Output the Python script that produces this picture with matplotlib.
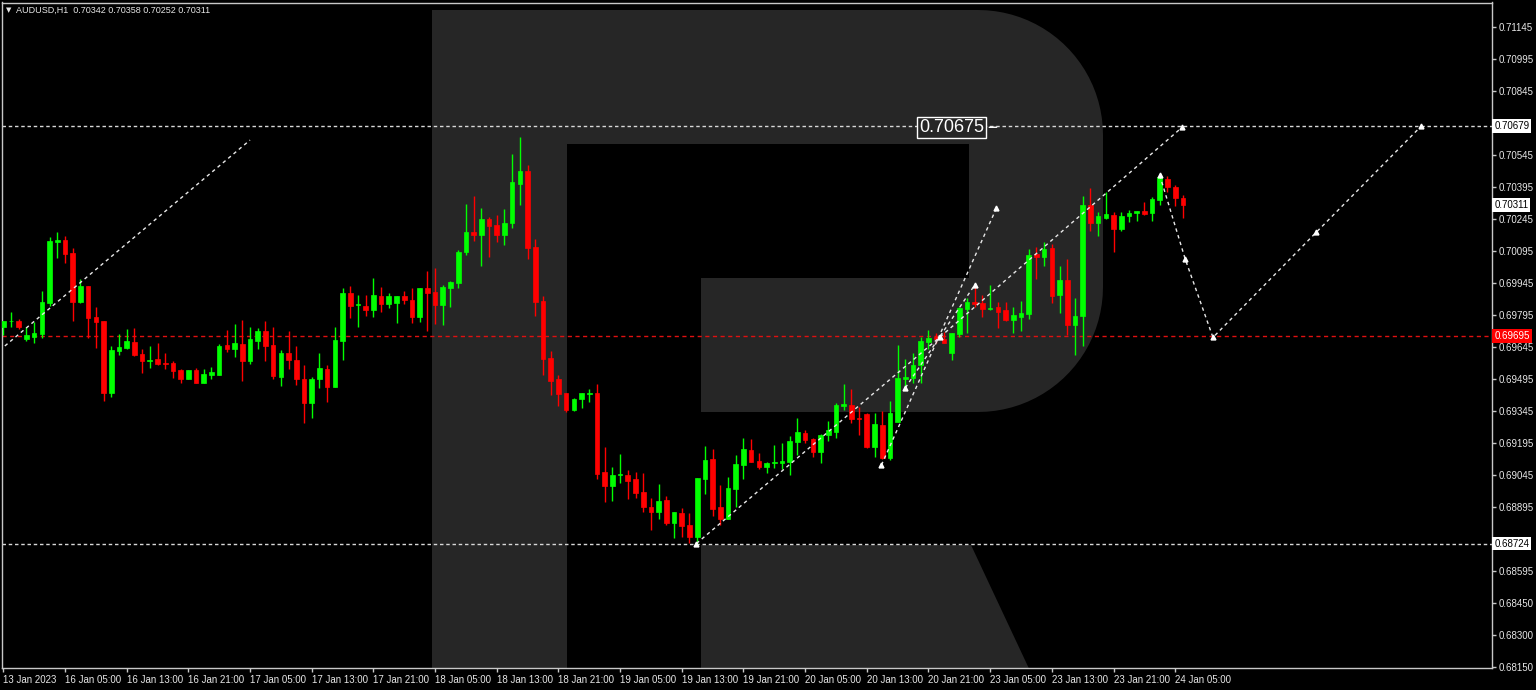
import matplotlib
matplotlib.use("Agg")
import matplotlib.pyplot as plt
import matplotlib.transforms as mtransforms
from matplotlib.patches import Polygon
import numpy as np

# ---------------- dados (AUDUSD H1, 13 Jan 21:00 -> 24 Jan 06:00) ----------------
opens = [
    0.69737, 0.69765, 0.69767, 0.69681, 0.69693, 0.69706, 0.69853, 0.70139, 0.70147, 0.70084,
    0.69857, 0.69931, 0.69784, 0.69767, 0.69431, 0.69626, 0.69642, 0.69669, 0.69612, 0.69578,
    0.69588, 0.69569, 0.69569, 0.69537, 0.69497, 0.69537, 0.69478, 0.69515, 0.69516, 0.69653,
    0.69637, 0.69658, 0.69579, 0.69675, 0.69722, 0.69653, 0.69506, 0.69617, 0.69584, 0.69497,
    0.69384, 0.69497, 0.69542, 0.69459, 0.69675, 0.69897, 0.69841, 0.69837, 0.69819, 0.69884,
    0.69845, 0.69853, 0.69884, 0.69865, 0.69787, 0.69922, 0.69903, 0.69841, 0.69923, 0.69944,
    0.70089, 0.70184, 0.70170, 0.70245, 0.70217, 0.70170, 0.70228, 0.70409, 0.70471, 0.70116,
    0.69861, 0.69592, 0.69494, 0.69428, 0.69350, 0.69400, 0.69426, 0.69430, 0.69059, 0.68995,
    0.69044, 0.69044, 0.69027, 0.68964, 0.68893, 0.68871, 0.68928, 0.68820, 0.68868, 0.68812,
    0.68753, 0.69027, 0.69119, 0.68897, 0.68839, 0.68978, 0.69092, 0.69162, 0.69113, 0.69082,
    0.69100, 0.69103, 0.69108, 0.69201, 0.69243, 0.69212, 0.69154, 0.69231, 0.69248, 0.69369,
    0.69373, 0.69312, 0.69330, 0.69175, 0.69280, 0.69125, 0.69295, 0.69494, 0.69501, 0.69561,
    0.69667, 0.69693, 0.69681, 0.69616, 0.69706, 0.69822, 0.69857, 0.69850, 0.69822, 0.69834,
    0.69819, 0.69772, 0.69787, 0.69798, 0.70081, 0.70066, 0.70107, 0.69889, 0.69959, 0.69748,
    0.69790, 0.70311, 0.70226, 0.70248, 0.70264, 0.70198, 0.70257, 0.70272, 0.70283, 0.70275,
    0.70334, 0.70431, 0.70394, 0.70342,
]
highs = [
    0.69767, 0.69809, 0.69776, 0.69737, 0.69764, 0.69908, 0.70162, 0.70183, 0.70165, 0.70111,
    0.69962, 0.69933, 0.69834, 0.69769, 0.69650, 0.69705, 0.69731, 0.69736, 0.69636, 0.69650,
    0.69664, 0.69617, 0.69579, 0.69542, 0.69539, 0.69545, 0.69542, 0.69551, 0.69658, 0.69723,
    0.69753, 0.69772, 0.69740, 0.69734, 0.69767, 0.69740, 0.69631, 0.69719, 0.69650, 0.69561,
    0.69506, 0.69616, 0.69561, 0.69737, 0.69922, 0.69931, 0.69889, 0.69889, 0.69967, 0.69925,
    0.69897, 0.69886, 0.69906, 0.69922, 0.69924, 0.70001, 0.70015, 0.69936, 0.69953, 0.70100,
    0.70315, 0.70353, 0.70297, 0.70253, 0.70264, 0.70292, 0.70550, 0.70629, 0.70498, 0.70152,
    0.69884, 0.69628, 0.69514, 0.69430, 0.69405, 0.69431, 0.69448, 0.69470, 0.69175, 0.69081,
    0.69144, 0.69069, 0.69060, 0.69055, 0.68937, 0.69003, 0.68947, 0.68874, 0.68892, 0.68868,
    0.69033, 0.69181, 0.69167, 0.68998, 0.69037, 0.69139, 0.69217, 0.69212, 0.69147, 0.69108,
    0.69186, 0.69195, 0.69227, 0.69314, 0.69256, 0.69217, 0.69237, 0.69298, 0.69382, 0.69472,
    0.69447, 0.69365, 0.69334, 0.69334, 0.69345, 0.69394, 0.69655, 0.69589, 0.69618, 0.69693,
    0.69725, 0.69712, 0.69717, 0.69712, 0.69834, 0.69873, 0.69939, 0.69889, 0.69936, 0.69857,
    0.69855, 0.69833, 0.69862, 0.70103, 0.70113, 0.70139, 0.70130, 0.70025, 0.70056, 0.69876,
    0.70353, 0.70389, 0.70280, 0.70370, 0.70280, 0.70280, 0.70287, 0.70284, 0.70325, 0.70350,
    0.70455, 0.70447, 0.70405, 0.70358,
]
lows = [
    0.69701, 0.69737, 0.69728, 0.69675, 0.69665, 0.69686, 0.69837, 0.70064, 0.70041, 0.69768,
    0.69850, 0.69686, 0.69642, 0.69393, 0.69412, 0.69606, 0.69637, 0.69604, 0.69525, 0.69548,
    0.69561, 0.69542, 0.69498, 0.69478, 0.69495, 0.69475, 0.69475, 0.69497, 0.69514, 0.69623,
    0.69597, 0.69487, 0.69567, 0.69634, 0.69579, 0.69497, 0.69462, 0.69542, 0.69467, 0.69288,
    0.69314, 0.69452, 0.69389, 0.69456, 0.69584, 0.69782, 0.69737, 0.69792, 0.69787, 0.69809,
    0.69827, 0.69759, 0.69845, 0.69759, 0.69764, 0.69719, 0.69754, 0.69750, 0.69831, 0.69920,
    0.70078, 0.70143, 0.70025, 0.70066, 0.70139, 0.70121, 0.70201, 0.70309, 0.70059, 0.69792,
    0.69514, 0.69420, 0.69370, 0.69339, 0.69347, 0.69358, 0.69389, 0.69027, 0.68920, 0.68925,
    0.69007, 0.68933, 0.68936, 0.68870, 0.68787, 0.68838, 0.68809, 0.68750, 0.68753, 0.68725,
    0.68720, 0.68956, 0.68853, 0.68812, 0.68837, 0.68897, 0.69027, 0.69106, 0.69071, 0.69056,
    0.69076, 0.69073, 0.69045, 0.69139, 0.69197, 0.69131, 0.69100, 0.69205, 0.69217, 0.69350,
    0.69290, 0.69235, 0.69170, 0.69131, 0.69120, 0.69115, 0.69293, 0.69452, 0.69478, 0.69478,
    0.69634, 0.69662, 0.69664, 0.69584, 0.69693, 0.69712, 0.69834, 0.69787, 0.69819, 0.69733,
    0.69768, 0.69709, 0.69722, 0.69776, 0.69962, 0.70025, 0.69853, 0.69806, 0.69701, 0.69608,
    0.69650, 0.70189, 0.70165, 0.70243, 0.70092, 0.70189, 0.70231, 0.70234, 0.70266, 0.70234,
    0.70311, 0.70373, 0.70306, 0.70252,
]
closes = [
    0.69767, 0.69768, 0.69740, 0.69701, 0.69709, 0.69857, 0.70143, 0.70147, 0.70080, 0.69857,
    0.69931, 0.69782, 0.69761, 0.69428, 0.69631, 0.69644, 0.69673, 0.69606, 0.69581, 0.69584,
    0.69566, 0.69566, 0.69534, 0.69497, 0.69537, 0.69478, 0.69519, 0.69528, 0.69650, 0.69637,
    0.69662, 0.69579, 0.69683, 0.69720, 0.69651, 0.69509, 0.69617, 0.69584, 0.69494, 0.69384,
    0.69497, 0.69547, 0.69459, 0.69678, 0.69897, 0.69837, 0.69845, 0.69819, 0.69889, 0.69845,
    0.69884, 0.69884, 0.69864, 0.69787, 0.69922, 0.69900, 0.69842, 0.69926, 0.69948, 0.70092,
    0.70183, 0.70170, 0.70245, 0.70214, 0.70170, 0.70228, 0.70418, 0.70471, 0.70111, 0.69857,
    0.69589, 0.69487, 0.69425, 0.69349, 0.69401, 0.69429, 0.69429, 0.69050, 0.68995, 0.69045,
    0.69050, 0.69019, 0.68963, 0.68897, 0.68871, 0.68923, 0.68820, 0.68870, 0.68806, 0.68753,
    0.69031, 0.69114, 0.68886, 0.68839, 0.68983, 0.69095, 0.69167, 0.69108, 0.69082, 0.69103,
    0.69105, 0.69111, 0.69205, 0.69248, 0.69209, 0.69154, 0.69234, 0.69256, 0.69371, 0.69377,
    0.69309, 0.69306, 0.69175, 0.69284, 0.69125, 0.69334, 0.69498, 0.69506, 0.69561, 0.69675,
    0.69686, 0.69681, 0.69665, 0.69709, 0.69827, 0.69857, 0.69845, 0.69823, 0.69828, 0.69811,
    0.69772, 0.69795, 0.69806, 0.70076, 0.70066, 0.70104, 0.69884, 0.69959, 0.69748, 0.69792,
    0.70311, 0.70228, 0.70257, 0.70268, 0.70198, 0.70259, 0.70275, 0.70283, 0.70268, 0.70337,
    0.70444, 0.70397, 0.70345, 0.70311,
]

time_labels = ["13 Jan 2023", "16 Jan 05:00", "16 Jan 13:00", "16 Jan 21:00", "17 Jan 05:00",
               "17 Jan 13:00", "17 Jan 21:00", "18 Jan 05:00", "18 Jan 13:00", "18 Jan 21:00",
               "19 Jan 05:00", "19 Jan 13:00", "19 Jan 21:00", "20 Jan 05:00", "20 Jan 13:00",
               "20 Jan 21:00", "23 Jan 05:00", "23 Jan 13:00", "23 Jan 21:00", "24 Jan 05:00"]
time_label_bars = [0, 8, 16, 24, 32, 40, 48, 56, 64, 72, 80, 88, 96, 104, 112, 120, 128, 136, 144, 152]

price_ticks = [0.71145, 0.70995, 0.70845, 0.70545, 0.70395, 0.70245, 0.70095, 0.69945, 0.69795,
               0.69645, 0.69495, 0.69345, 0.69195, 0.69045, 0.68895, 0.68595, 0.68445, 0.68295, 0.68145]
price_tick_labels = ["0.71145", "0.70995", "0.70845", "0.70545", "0.70395", "0.70245", "0.70095",
                     "0.69945", "0.69795", "0.69645", "0.69495", "0.69345", "0.69195", "0.69045",
                     "0.68895", "0.68595", "0.68450", "0.68300", "0.68150"]

level_high = 0.70679
level_low = 0.68724
bid_price = 0.69695
last_price = 0.70311
target_text = "0.70675"
target_bar = 123.0
header = "AUDUSD,H1  0.70342 0.70358 0.70252 0.70311"

# linhas de previsão (índice da barra, preço)
wave_left_bars = [0.2, 32.0]
wave_left_prices = [0.69650, 0.70615]
channel_bars = [89.9, 121.5, 152.9]
channel_prices = [0.68724, 0.69692, 0.70675]
steep_bars = [113.9, 128.8]
steep_prices = [0.69092, 0.70295]
mid_bars = [117.0, 126.0]
mid_prices = [0.69454, 0.69936]
forecast_bars = [150.0, 153.3, 156.9, 170.3, 183.9]
forecast_prices = [0.70450, 0.70057, 0.69690, 0.70183, 0.70680]

UP = "#00ff00"
DOWN = "#ff0000"
FG = "#e6e6e6"
WATERMARK = "#262626"

plt.rcParams["font.family"] = ["Liberation Sans", "DejaVu Sans"]

W, H = 1536, 690
fig = plt.figure(figsize=(W / 100, H / 100), dpi=100, facecolor="black")
ax = fig.add_axes([2 / W, (H - 668) / H, 1490 / W, (668 - 2.5) / H])
ax.set_facecolor("black")

# logo "R" ao fundo (coordenadas em pixels da imagem)
px = mtransforms.Affine2D().scale(1 / W, -1 / H).translate(0, 1) + fig.transFigure


def arc(cx, cy, r, a0, a1):
    t = np.radians(np.linspace(a0, a1, 24))
    return list(zip(cx + r * np.cos(t), cy - r * np.sin(t)))


r_outline = ([(432, 10), (978, 10)] + arc(978, 135, 125, 90, 0) + arc(978, 287, 125, 0, -90)
             + [(978, 412), (701, 412), (701, 278), (969, 278), (969, 144), (567, 144),
                (567, 675), (432, 675)])
ax.add_patch(Polygon(r_outline, closed=True, transform=px, facecolor=WATERMARK,
                     edgecolor="none", zorder=0))
ax.add_patch(Polygon([(701, 545), (971, 545), (1032, 675), (701, 675)], closed=True,
                     transform=px, facecolor=WATERMARK, edgecolor="none", zorder=0))

# velas
o = np.array(opens)
h = np.array(highs)
l = np.array(lows)
c = np.array(closes)
x = np.arange(len(o))
colors = np.where(c >= o, UP, DOWN)

ax.vlines(x, l, h, colors=colors, linewidth=1, zorder=3)
body_low = np.minimum(o, c)
body_h = np.maximum(np.abs(c - o), 0.000025)
ax.bar(x, body_h, bottom=body_low, width=0.6, color=colors, edgecolor=colors,
       linewidth=0.5, zorder=4)

# níveis horizontais
dots = (0, (2.5, 2))
ax.axhline(level_high, color="#d8d8d8", linewidth=1, linestyle=dots, zorder=2)
ax.axhline(level_low, color="#d8d8d8", linewidth=1, linestyle=dots, zorder=2)
ax.axhline(bid_price, color="#e01010", linewidth=1, linestyle=(0, (3, 2.5)), zorder=2)

# linhas de onda / previsão
line_kw = dict(color="#e8e8e8", linewidth=1, linestyle=(0, (2.5, 2.5)), zorder=5)
mark_kw = dict(color="white", marker="^", markersize=3.5, linestyle="none", zorder=6)
ax.plot(wave_left_bars, wave_left_prices, **line_kw)
for bx, by in [(channel_bars, channel_prices), (steep_bars, steep_prices),
               (mid_bars, mid_prices), (forecast_bars, forecast_prices)]:
    ax.plot(bx, by, **line_kw)
    ax.plot(bx, by, **mark_kw)

# rótulo do alvo
ax.annotate(target_text, xy=(target_bar + 6.2, channel_prices[-1]),
            xytext=(target_bar, channel_prices[-1]), ha="center", va="center",
            fontsize=13, color="white", zorder=7,
            bbox=dict(boxstyle="square,pad=0.1", fc=WATERMARK, ec="white", lw=1),
            arrowprops=dict(arrowstyle="-", color="white", lw=1))

# eixos
ax.set_xlim(-0.17, 193.09)
ax.set_ylim(0.681406, 0.712598)

ax.set_xticks(time_label_bars)
ax.set_xticklabels(time_labels)
for lbl in ax.get_xticklabels():
    lbl.set_horizontalalignment("left")
ax.tick_params(axis="x", direction="out", length=3, width=1, color="#c8c8c8",
               labelsize=7, labelcolor=FG, pad=2)

ax.yaxis.tick_right()
ax.set_yticks(price_ticks)
ax.set_yticklabels(price_tick_labels)
ax.tick_params(axis="y", direction="out", length=3, width=1, color="#c8c8c8",
               labelsize=7, labelcolor=FG, pad=2)

for side in ["top", "bottom", "left", "right"]:
    ax.spines[side].set_color("#c8c8c8")
    ax.spines[side].set_linewidth(1)

# caixas de preço no eixo direito
blend = mtransforms.blended_transform_factory(ax.transAxes, ax.transData)
for price, fc, tc in [(level_high, "white", "black"), (last_price, "white", "black"),
                      (bid_price, "#ff0000", "white"), (level_low, "white", "black")]:
    ax.text(1.0015, price, f"{price:.5f}", transform=blend, ha="left", va="center",
            fontsize=7, color=tc, clip_on=False, zorder=8,
            bbox=dict(boxstyle="square,pad=0.2", fc=fc, ec="none"))

# cabeçalho
fig.text(6 / W, 1 - 10 / H, "\u25bc", fontsize=5, color=FG, va="center", ha="left",
         family=["DejaVu Sans"])
fig.text(16 / W, 1 - 10 / H, header, fontsize=6.5, color=FG, va="center", ha="left")

fig.savefig("out.png", dpi=100, facecolor="black")
